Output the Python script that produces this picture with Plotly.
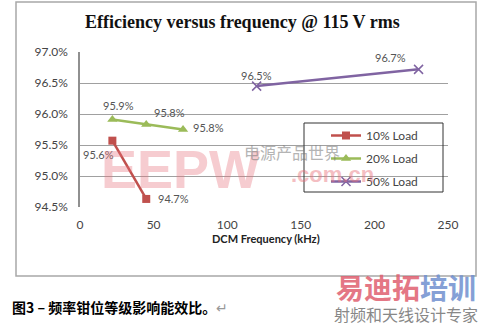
import plotly.graph_objects as go

# Efficiency (%) against DCM clamp frequency (kHz) for three load levels
freq_10 = [22, 45]
eff_10 = [95.57, 94.63]
lbl_10 = ["95.6%", "94.7%"]

freq_20 = [22, 45, 70]
eff_20 = [95.91, 95.83, 95.75]
lbl_20 = ["95.9%", "95.8%", "95.8%"]

freq_50 = [120, 230]
eff_50 = [96.45, 96.72]
lbl_50 = ["96.5%", "96.7%"]

y_ticks = [94.5, 95.0, 95.5, 96.0, 96.5, 97.0]
y_tick_text = ["94.5%", "95.0%", "95.5%", "96.0%", "96.5%", "97.0%"]
x_ticks = [0, 50, 100, 150, 200, 250]

W, H = 484, 325
L, R, T, B = 80, 448, 52, 207  # plot area in pixels


def px(x):
    return (x - L) / (R - L)


def py(y):
    return (B - y) / (B - T)


RED, GREEN, PURPLE = "#C0504D", "#9BBB59", "#8064A2"
SANS = "Lato, Open Sans, sans-serif"
LABEL_FONT = dict(family=SANS, size=11, color="#555555")

series = [
    ("10% Load", freq_10, eff_10, lbl_10, RED,
     dict(symbol="square", size=8, color=RED),
     [(-14, -14), (27, 0)]),
    ("20% Load", freq_20, eff_20, lbl_20, GREEN,
     dict(symbol="triangle-up", size=9, color=GREEN),
     [(6, 14), (23, 12), (25, 2)]),
    ("50% Load", freq_50, eff_50, lbl_50, PURPLE,
     dict(symbol="x-thin-open", size=9, color=PURPLE,
          line=dict(color=PURPLE, width=1.5)),
     [(0, 11), (-28, 12)]),
]

fig = go.Figure()
annotations = []
for i, (name, xs, ys, labels, color, marker, shifts) in enumerate(series):
    fig.add_trace(go.Scatter(
        x=xs, y=ys, name=name + "\u00a0\u00a0\u00a0\u00a0\u00a0",
        mode="lines+markers", legendgroup=f"g{i}",
        line=dict(color=color, width=2.5), marker=marker,
    ))
    # value labels next to each point
    for xv, yv, t, (dx, dy) in zip(xs, ys, labels, shifts):
        annotations.append(dict(
            x=xv, y=yv, xref="x", yref="y", text=t, showarrow=False,
            xshift=dx, yshift=dy, xanchor="center", yanchor="middle",
            font=LABEL_FONT,
        ))

annotations += [
    # chart title
    dict(x=px(242), y=py(22), xref="paper", yref="paper", xanchor="center",
         yanchor="middle", showarrow=False,
         text="<b>Efficiency versus frequency @ 115 V rms</b>",
         font=dict(family="Liberation Serif, serif", size=18, color="#111111")),
    # x axis title
    dict(x=px(266), y=py(238), xref="paper", yref="paper", xanchor="center",
         yanchor="middle", showarrow=False, text="<b>DCM Frequency (kHz)</b>",
         font=dict(family=SANS, size=11, color="#222222")),
    # background watermark marks
    dict(x=px(180), y=py(169), xref="paper", yref="paper", xanchor="center",
         yanchor="middle", showarrow=False, text="<b>EEPW</b>", opacity=0.35,
         font=dict(family="Liberation Sans, sans-serif", size=54, color="#E8707A")),
    dict(x=px(292), y=py(152), xref="paper", yref="paper", xanchor="center",
         yanchor="middle", showarrow=False, text="电源产品世界", opacity=0.55,
         font=dict(family="Noto Sans CJK SC", size=16, color="#777777")),
    dict(x=px(332), y=py(174), xref="paper", yref="paper", xanchor="center",
         yanchor="middle", showarrow=False, text="<b>.com.cn</b>", opacity=0.45,
         font=dict(family="Liberation Sans, sans-serif", size=22, color="#E8707A")),
    # caption under the chart
    dict(x=px(10), y=py(307), xref="paper", yref="paper", xanchor="left",
         yanchor="middle", showarrow=False,
         text="<b>图3 – 频率钳位等级影响能效比。</b><span style='color:#999'>↵</span>",
         font=dict(family="Noto Sans CJK SC", size=14, color="#000000")),
    # corner logo
    dict(x=px(406), y=py(287), xref="paper", yref="paper", xanchor="center",
         yanchor="middle", showarrow=False,
         text="<b><span style='color:#E06070'>易迪拓</span><span style='color:#7090D0'>培训</span></b>",
         opacity=0.85,
         font=dict(family="Noto Sans CJK SC", size=28, color="#E06070")),
    dict(x=px(406), y=py(314), xref="paper", yref="paper", xanchor="center",
         yanchor="middle", showarrow=False, text="射频和天线设计专家",
         font=dict(family="Noto Sans CJK SC", size=16, color="#888888")),
]

shapes = [
    # outer chart frame
    dict(type="rect", xref="paper", yref="paper", x0=px(16), x1=px(476),
         y0=py(276), y1=py(2), line=dict(color="#A8A8A8", width=1.5),
         layer="below"),
    # legend frame
    dict(type="rect", xref="paper", yref="paper", x0=px(304), x1=px(443),
         y0=py(192), y1=py(123), line=dict(color="#333333", width=1),
         layer="above"),
]

fig.update_layout(
    width=W, height=H,
    margin=dict(l=L, r=W - R, t=T, b=H - B),
    paper_bgcolor="white", plot_bgcolor="white",
    showlegend=True,
    legend=dict(
        x=px(326), y=py(121), xanchor="left", yanchor="top",
        borderwidth=0, bgcolor="rgba(255,255,255,0)",
        font=dict(family=SANS, size=12, color="#444444"),
        itemwidth=30, tracegroupgap=4,
    ),
    xaxis=dict(range=[0, 250], tickvals=x_ticks, showgrid=False, zeroline=False,
               showline=False, ticks="", ticklabelstandoff=9,
               tickfont=dict(family=SANS, size=12, color="#444444")),
    yaxis=dict(range=[94.5, 97.0], tickvals=y_ticks, ticktext=y_tick_text,
               showgrid=True, gridcolor="#A0A0A0", gridwidth=1,
               zeroline=False, showline=True, linecolor="#909090", linewidth=1.5,
               ticks="", ticklabelstandoff=8,
               tickfont=dict(family=SANS, size=12, color="#444444")),
    annotations=annotations,
    shapes=shapes,
)

fig.write_html("out.html")
